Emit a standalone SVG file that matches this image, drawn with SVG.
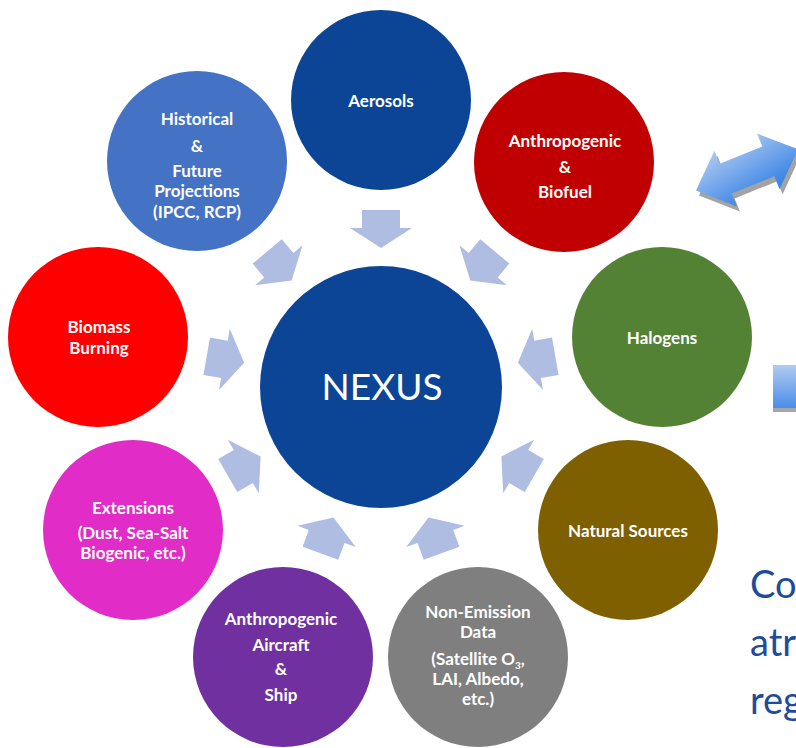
<svg xmlns="http://www.w3.org/2000/svg" width="796" height="748" viewBox="0 0 796 748">
  <style>
    .lbl { font-family: Lato, "Noto Sans", "Liberation Sans", sans-serif; font-weight: bold; font-size: 17px; fill: #ffffff; text-anchor: middle; }
    .hub { font-family: Lato, "Noto Sans", "Liberation Sans", sans-serif; font-size: 37px; fill: #ffffff; text-anchor: middle; }
    .side { font-family: Lato, "Noto Sans", "Liberation Sans", sans-serif; font-size: 38px; fill: #1d4c9c; }
    .flow { fill: #aebde1; }
  </style>
  <defs>
    <!-- inward block arrow, tip at origin, pointing down -->
    <path id="inArrow" d="M -19 -38 L 19 -38 L 19 -20 L 31 -20 L 0 0 L -31 -20 L -19 -20 Z"/>
    <linearGradient id="blueFill" x1="0" y1="0" x2="0.3" y2="1">
      <stop offset="0" stop-color="#b6cff2"/>
      <stop offset="1" stop-color="#3f86e6"/>
    </linearGradient>
    <linearGradient id="blueRect" x1="0" y1="0" x2="0" y2="1">
      <stop offset="0" stop-color="#b2cbf1"/>
      <stop offset="1" stop-color="#4a8de8"/>
    </linearGradient>
  </defs>

  <rect width="796" height="748" fill="#ffffff"/>

  <!-- decorative shapes at the right edge -->
  <g id="double-arrow">
    <path transform="translate(750,175) rotate(-22)" fill="#a3a3a3" d="M -55 0 L -23 -30 L -23 -16 L 23 -16 L 23 -30 L 55 0 L 23 30 L 23 16 L -23 16 L -23 30 Z"/>
    <path transform="translate(747,170) rotate(-22)" fill="url(#blueFill)" d="M -55 0 L -23 -30 L -23 -16 L 23 -16 L 23 -30 L 55 0 L 23 30 L 23 16 L -23 16 L -23 30 Z"/>
  </g>
  <g id="side-block">
    <rect x="773" y="368" width="30" height="44" fill="#a6a6a6"/>
    <rect x="773" y="365" width="30" height="43" fill="url(#blueRect)"/>
  </g>
  <g id="side-text">
    <text class="side" x="750" y="598">Co</text>
    <text class="side" x="750" y="656">atr</text>
    <text class="side" x="750" y="714">reg</text>
  </g>

  <!-- connectors: arrows pointing into the hub -->
  <g id="connectors" class="flow">
    <use href="#inArrow" transform="translate(381,387) rotate(0) translate(0,-139)"/>
    <use href="#inArrow" transform="translate(381,387) rotate(40) translate(0,-139)"/>
    <use href="#inArrow" transform="translate(381,387) rotate(80) translate(0,-139)"/>
    <use href="#inArrow" transform="translate(381,387) rotate(120) translate(0,-139)"/>
    <use href="#inArrow" transform="translate(381,387) rotate(160) translate(0,-139)"/>
    <use href="#inArrow" transform="translate(381,387) rotate(200) translate(0,-139)"/>
    <use href="#inArrow" transform="translate(381,387) rotate(240) translate(0,-139)"/>
    <use href="#inArrow" transform="translate(381,387) rotate(280) translate(0,-139)"/>
    <use href="#inArrow" transform="translate(381,387) rotate(320) translate(0,-139)"/>
  </g>

  <g id="nexus">
    <circle cx="381" cy="387" r="121" fill="#0c4595"/>
    <text class="hub" x="382" y="400">NEXUS</text>
  </g>

  <g id="aerosols">
    <circle cx="381" cy="100" r="90" fill="#0c4595"/>
    <text class="lbl" x="381" y="107">Aerosols</text>
  </g>

  <g id="anthropogenic-biofuel">
    <circle cx="564" cy="162" r="90" fill="#c00000"/>
    <text class="lbl" x="565" y="147">Anthropogenic</text>
    <text class="lbl" x="565" y="173">&amp;</text>
    <text class="lbl" x="565" y="198">Biofuel</text>
  </g>

  <g id="halogens">
    <circle cx="662" cy="337" r="90" fill="#548235"/>
    <text class="lbl" x="662" y="344">Halogens</text>
  </g>

  <g id="natural-sources">
    <circle cx="628" cy="530" r="90" fill="#7f6000"/>
    <text class="lbl" x="628" y="537">Natural Sources</text>
  </g>

  <g id="non-emission">
    <circle cx="478" cy="657" r="90" fill="#7f7f7f"/>
    <text class="lbl" x="478" y="618">Non-Emission</text>
    <text class="lbl" x="478" y="638">Data</text>
    <text class="lbl" x="478" y="665">(Satellite O<tspan font-size="10" baseline-shift="-4">3</tspan>,</text>
    <text class="lbl" x="478" y="685">LAI, Albedo,</text>
    <text class="lbl" x="478" y="705">etc.)</text>
  </g>

  <g id="aircraft-ship">
    <circle cx="283" cy="657" r="90" fill="#7030a0"/>
    <text class="lbl" x="281" y="625">Anthropogenic</text>
    <text class="lbl" x="281" y="651">Aircraft</text>
    <text class="lbl" x="281" y="675">&amp;</text>
    <text class="lbl" x="281" y="701">Ship</text>
  </g>

  <g id="extensions">
    <circle cx="133" cy="530" r="90" fill="#e22cc7"/>
    <text class="lbl" x="133" y="514">Extensions</text>
    <text class="lbl" x="133" y="539">(Dust, Sea-Salt</text>
    <text class="lbl" x="133" y="559">Biogenic, etc.)</text>
  </g>

  <g id="biomass-burning">
    <circle cx="98" cy="337" r="90" fill="#ff0000"/>
    <text class="lbl" x="99" y="333">Biomass</text>
    <text class="lbl" x="99" y="354">Burning</text>
  </g>

  <g id="historical-future">
    <circle cx="197" cy="161" r="90" fill="#4472c4"/>
    <text class="lbl" x="197" y="125">Historical</text>
    <text class="lbl" x="197" y="152">&amp;</text>
    <text class="lbl" x="197" y="177">Future</text>
    <text class="lbl" x="197" y="197">Projections</text>
    <text class="lbl" x="197" y="218">(IPCC, RCP)</text>
  </g>
</svg>
